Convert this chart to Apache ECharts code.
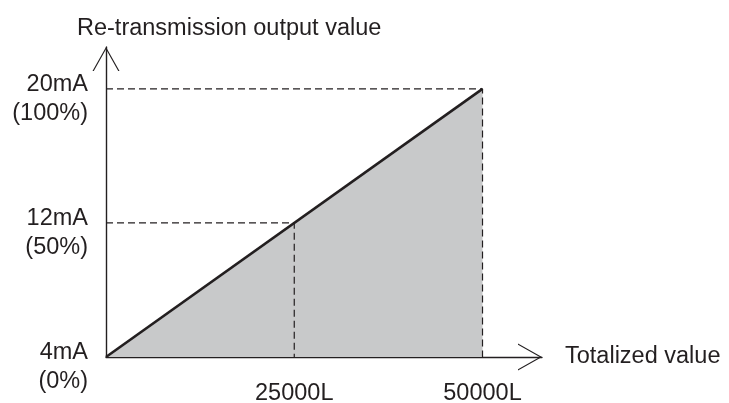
<!DOCTYPE html>
<html>
<head>
<meta charset="utf-8">
<style>
  html, body { margin: 0; padding: 0; background: #ffffff; }
  #chart { width: 729px; height: 403px; }
</style>
<script src="https://cdn.jsdelivr.net/npm/echarts@6/dist/echarts.min.js"></script>
</head>
<body>
<div id="chart"></div>
<script>
// Transfer characteristic: totalized volume -> re-transmission current
const totalized = [0, 50000];
const output = [4, 20];

// Guide points marked with dashed lines
const guideTotal = [25000, 50000];
const guideOutput = [12, 20];

// Tick labels
const xTickValues = [25000, 50000];
const xTickLabels = ['25000L', '50000L'];
const yTickValues = [4, 12, 20];
const yTickCurrent = ['4mA', '12mA', '20mA'];
const yTickPercent = ['(0%)', '(50%)', '(100%)'];

const INK = '#231f20';
const FONT = '"Liberation Sans", Arial, sans-serif';
const FS = 23.5;

// Open chevron arrow head (tip at the top), filled with the axis colour
const chevron = 'path://M0,0 L-13.5,24 L-12.2,24 L0,2.3 L12.2,24 L13.5,24 Z';

const chart = echarts.init(document.getElementById('chart'), null, { renderer: 'canvas' });

const lineData = totalized.map((x, i) => [x, output[i]]);
const guideSeries = guideTotal.map((x, i) => ({
  type: 'line',
  data: [[totalized[0], guideOutput[i]], [x, guideOutput[i]], [x, output[0]]],
  symbol: 'none',
  silent: true,
  z: 4,
  lineStyle: { color: INK, width: 1.2, type: [7, 4] }
}));

chart.setOption({
  animation: false,
  backgroundColor: '#ffffff',
  title: {
    text: 'Re-transmission output value',
    left: 72,
    top: 12,
    textStyle: { fontFamily: FONT, fontSize: FS, fontWeight: 'normal', color: INK }
  },
  grid: { left: 106, right: 187, top: 47, bottom: 46, outerBoundsMode: 'none' },
  xAxis: {
    type: 'value',
    min: 0,
    max: 57900,
    name: 'Totalized value',
    nameLocation: 'end',
    nameGap: 23,
    nameTextStyle: { fontFamily: FONT, fontSize: FS, color: INK, padding: [0, 0, 8, 0] },
    splitLine: { show: false },
    axisTick: { show: false },
    axisLine: {
      show: true,
      symbol: ['none', chevron],
      symbolSize: [27, 24],
      symbolOffset: [0, -12],
      lineStyle: { color: INK, width: 1.4 }
    },
    axisLabel: {
      customValues: xTickValues,
      formatter: v => xTickLabels[xTickValues.indexOf(v)],
      margin: 25,
      fontFamily: FONT,
      fontSize: FS,
      color: INK
    }
  },
  yAxis: {
    type: 'value',
    min: 4,
    max: 22.5,
    splitLine: { show: false },
    axisTick: { show: false },
    axisLine: {
      show: true,
      symbol: ['none', chevron],
      symbolSize: [27, 24],
      symbolOffset: [0, -12],
      lineStyle: { color: INK, width: 1.4 }
    },
    axisLabel: {
      customValues: yTickValues,
      formatter: v => {
        const i = yTickValues.indexOf(v);
        return '{g| }\n{m|' + yTickCurrent[i] + '}\n{m|' + yTickPercent[i] + '}';
      },
      margin: 18,
      align: 'right',
      verticalAlign: 'middle',
      rich: {
        g: { fontFamily: FONT, fontSize: 8, lineHeight: 20, color: INK },
        m: { fontFamily: FONT, fontSize: FS, lineHeight: 29, color: INK, align: 'right' }
      }
    }
  },
  series: [
    {
      type: 'line',
      data: lineData,
      symbol: 'none',
      silent: true,
      z: 3,
      lineStyle: { color: INK, width: 2.6 },
      areaStyle: { color: '#c8c9ca', opacity: 1 }
    },
    ...guideSeries
  ]
});
</script>
</body>
</html>
